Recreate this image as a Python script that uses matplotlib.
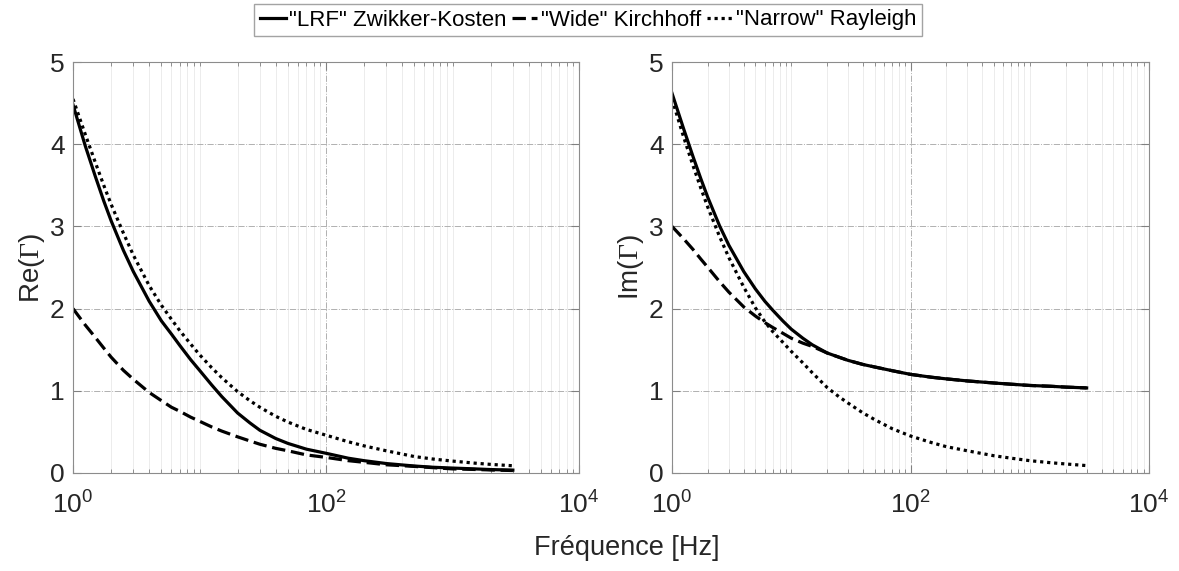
import numpy as np
import matplotlib
matplotlib.use("Agg")
import matplotlib.pyplot as plt
from matplotlib.ticker import FixedLocator, NullFormatter

plt.rcParams["font.family"] = ["Liberation Sans", "DejaVu Sans"]
plt.rcParams["mathtext.fontset"] = "custom"
plt.rcParams["mathtext.rm"] = "Liberation Serif"
plt.rcParams["mathtext.default"] = "regular"

# frequency samples (Hz)
freq = [1, 1.25, 1.5, 1.75, 2, 2.5, 3, 4, 5, 6, 7, 8.5, 10, 12.5, 15, 20, 25, 30, 40, 50,
        70, 100, 150, 200, 300, 500, 700, 1000, 1500, 2000, 3000]

# Re(Gamma)
re_lrf = [4.48, 3.98, 3.61, 3.31, 3.07, 2.71, 2.45, 2.09, 1.85, 1.69, 1.55, 1.38, 1.25, 1.07, 0.93,
          0.73, 0.61, 0.52, 0.42, 0.36, 0.29, 0.24, 0.18, 0.15, 0.115, 0.085, 0.07, 0.06, 0.05, 0.042, 0.035]
re_wide = [2.00, 1.80, 1.65, 1.52, 1.41, 1.25, 1.14, 0.98, 0.88, 0.80, 0.75, 0.68, 0.63, 0.56, 0.51,
           0.44, 0.39, 0.35, 0.30, 0.27, 0.22, 0.19, 0.15, 0.13, 0.10, 0.08, 0.065, 0.05, 0.043, 0.037, 0.03]
re_narrow = [4.55, 4.12, 3.78, 3.50, 3.27, 2.92, 2.65, 2.28, 2.04, 1.87, 1.73, 1.57, 1.44, 1.28, 1.16,
             0.99, 0.88, 0.80, 0.69, 0.62, 0.53, 0.46, 0.38, 0.33, 0.27, 0.20, 0.17, 0.145, 0.12, 0.105, 0.088]

# Im(Gamma)
im_lrf = [4.62, 4.19, 3.85, 3.575, 3.35, 3.01, 2.77, 2.45, 2.24, 2.09, 1.98, 1.85, 1.75, 1.64, 1.56,
          1.46, 1.41, 1.37, 1.32, 1.29, 1.245, 1.20, 1.165, 1.145, 1.12, 1.095, 1.08, 1.065, 1.055, 1.045, 1.035]
im_wide = [3.00, 2.85, 2.72, 2.60, 2.50, 2.33, 2.20, 2.02, 1.91, 1.83, 1.77, 1.70, 1.64, 1.58, 1.54,
           1.46, 1.41, 1.37, 1.32, 1.29, 1.245, 1.20, 1.165, 1.145, 1.12, 1.095, 1.08, 1.065, 1.055, 1.045, 1.035]
im_narrow = [4.55, 4.09, 3.74, 3.46, 3.23, 2.88, 2.62, 2.26, 2.01, 1.84, 1.72, 1.59, 1.48, 1.34, 1.22,
             1.04, 0.93, 0.85, 0.73, 0.65, 0.54, 0.45, 0.37, 0.32, 0.27, 0.21, 0.18, 0.15, 0.125, 0.11, 0.09]

labels = ['"LRF" Zwikker-Kosten', '"Wide" Kirchhoff', '"Narrow" Rayleigh']
ylabels = [r"Re($\mathrm{\Gamma}$)", r"Im($\mathrm{\Gamma}$)"]

W, H = 1179, 571
fig = plt.figure(figsize=(W / 100, H / 100), dpi=100)
ax1 = fig.add_axes([73 / W, 1 - 473 / H, 506 / W, 411 / H])
ax2 = fig.add_axes([672 / W, 1 - 473 / H, 477 / W, 411 / H])

tick_col = "#262626"
minor = [m * 10 ** d for d in range(4) for m in range(2, 10)] + [10, 1000]

for ax, data, yl in [(ax1, (re_lrf, re_wide, re_narrow), ylabels[0]),
                     (ax2, (im_lrf, im_wide, im_narrow), ylabels[1])]:
    ax.plot(freq, data[0], color="black", lw=2.3, ls="-", label=labels[0])
    ax.plot(freq, data[1], color="black", lw=2.3, ls=(0, (4.2, 1.8)), label=labels[1])
    ax.plot(freq, data[2], color="black", lw=2.3, ls=(0, (1.0, 1.2)), label=labels[2])
    ax.set_xscale("log")
    ax.set_xlim(1, 1e4)
    ax.set_ylim(0, 5)
    ax.xaxis.set_major_locator(FixedLocator([1, 100, 1e4]))
    ax.xaxis.set_minor_locator(FixedLocator(minor))
    ax.xaxis.set_minor_formatter(NullFormatter())
    ax.set_yticks([0, 1, 2, 3, 4, 5])
    ax.grid(True, which="major", color="#b0b0b0", ls="-.", lw=0.7)
    ax.grid(True, which="minor", axis="x", color="#ececec", ls="-", lw=0.7)
    ax.tick_params(which="both", direction="in", top=True, right=True,
                   colors="#808080", labelcolor=tick_col, labelsize=19)
    ax.tick_params(axis="y", pad=6)
    ax.tick_params(axis="x", pad=13)
    ax.tick_params(which="major", length=6)
    ax.tick_params(which="minor", length=3)
    for s in ax.spines.values():
        s.set_color("#8c8c8c")
        s.set_linewidth(0.8)
    ax.set_ylabel(yl, fontsize=20, color=tick_col, labelpad=2)

fig.text(627 / W, 1 - 548 / H, "Fréquence [Hz]", fontsize=19.5, color=tick_col,
         ha="center", va="center")

handles, labs = ax1.get_legend_handles_labels()
fig.legend(handles, labs, loc="center", bbox_to_anchor=(588 / W, 1 - 20 / H), ncol=3,
           fontsize=16, frameon=True, fancybox=False, edgecolor="#8c8c8c",
           handlelength=1.15, handletextpad=0.15, columnspacing=0.25,
           borderpad=0.25, borderaxespad=0)

fig.savefig("out.png", dpi=100, facecolor="white")
